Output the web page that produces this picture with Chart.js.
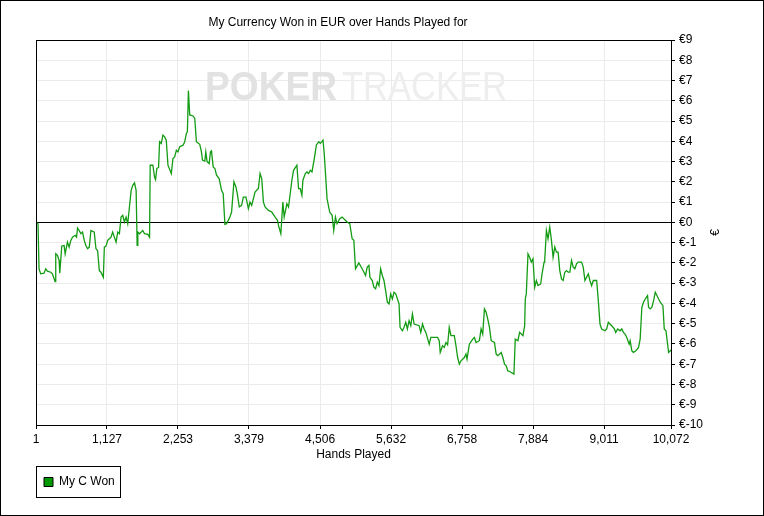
<!DOCTYPE html>
<html>
<head>
<meta charset="utf-8">
<title>My Currency Won in EUR over Hands Played</title>
<script src="https://cdn.jsdelivr.net/npm/chart.js@4.4.0/dist/chart.umd.min.js"></script>
<style>
  html, body { margin: 0; padding: 0; background: #fff; }
  #wrap { width: 764px; height: 516px; }
</style>
</head>
<body>
<div id="wrap"><canvas id="plotWon" width="764" height="516"></canvas></div>
<script>
var chartTitle = "My Currency Won in EUR over Hands Played for";
var xTitle = "Hands Played";
var yTitle = "€";
var seriesLabel = "My C Won";
var xTicks = [1, 1127, 2253, 3379, 4506, 5632, 6758, 7884, 9011, 10072];
var yMin = -10;
var yMax = 9;

var hands = [
  1, 33, 49, 75, 128, 155, 182, 235, 261, 304, 314, 341, 368, 378, 410, 447, 463, 500, 527, 553,
  580, 622, 644, 660, 686, 713, 739, 766, 792, 819, 846, 872, 925, 952, 978, 1005, 1031, 1069, 1085, 1111,
  1138, 1164, 1191, 1217, 1244, 1271, 1297, 1324, 1350, 1377, 1403, 1430, 1456, 1483, 1510, 1536, 1563, 1589, 1605, 1616,
  1642, 1695, 1722, 1775, 1802, 1812, 1855, 1881, 1897, 1918, 1945, 1961, 1988, 2014, 2041, 2067, 2094, 2147, 2173, 2200,
  2227, 2253, 2280, 2333, 2360, 2386, 2402, 2418, 2439, 2492, 2519, 2545, 2598, 2625, 2641, 2678, 2694, 2715, 2747, 2768,
  2784, 2811, 2838, 2864, 2906, 2944, 2970, 2997, 3023, 3050, 3076, 3103, 3140, 3172, 3193, 3225, 3262, 3289, 3331, 3369,
  3395, 3422, 3475, 3528, 3555, 3581, 3608, 3634, 3687, 3740, 3794, 3831, 3847, 3884, 3916, 3937, 3980, 4006, 4059, 4086,
  4139, 4165, 4192, 4218, 4234, 4272, 4298, 4325, 4351, 4378, 4415, 4447, 4484, 4511, 4553, 4574, 4617, 4659, 4697, 4723,
  4750, 4776, 4818, 4856, 4935, 4978, 5015, 5042, 5068, 5121, 5174, 5228, 5254, 5281, 5297, 5334, 5360, 5387, 5414, 5440,
  5467, 5493, 5520, 5546, 5573, 5600, 5626, 5653, 5679, 5706, 5759, 5775, 5812, 5838, 5865, 5891, 5918, 5945, 5971, 5998,
  6077, 6104, 6131, 6157, 6184, 6237, 6263, 6316, 6370, 6396, 6412, 6449, 6476, 6502, 6529, 6555, 6582, 6635, 6662, 6688,
  6715, 6741, 6794, 6821, 6837, 6874, 6927, 6954, 6980, 7033, 7060, 7086, 7113, 7140, 7166, 7193, 7220, 7272, 7299, 7326,
  7379, 7405, 7432, 7458, 7485, 7512, 7538, 7581, 7602, 7644, 7671, 7724, 7751, 7761, 7777, 7804, 7830, 7857, 7883, 7910,
  7937, 7963, 8005, 8027, 8059, 8069, 8096, 8122, 8149, 8176, 8202, 8229, 8255, 8282, 8308, 8335, 8361, 8388, 8415, 8441,
  8468, 8494, 8521, 8547, 8574, 8600, 8654, 8680, 8707, 8733, 8760, 8786, 8813, 8840, 8893, 8919, 8946, 8972, 9025, 9052,
  9078, 9131, 9174, 9195, 9227, 9264, 9291, 9317, 9344, 9371, 9408, 9424, 9451, 9477, 9514, 9557, 9583, 9610, 9636, 9663,
  9700, 9716, 9743, 9769, 9796, 9822, 9849, 9875, 9902, 9944, 9965, 9992, 10034, 10061, 10072
];

var won = [
  0, -0.07, -2.29, -2.54, -2.51, -2.29, -2.41, -2.46, -2.54, -2.92, -1.55, -1.63, -1.88, -2.51, -1.17, -1.14, -1.55, -0.97, -1.22, -0.89,
  -0.73, -0.64, -0.73, -0.28, -0.40, -0.56, -0.48, -0.89, -1.14, -1.30, -1.22, -0.40, -0.48, -1.30, -1.39, -2.38, -2.46, -2.71, -1.22, -1.17,
  -0.89, -0.81, -0.73, -0.48, -0.73, -0.97, -0.48, -0.56, 0.26, 0.35, 0.02, 0.26, -0.07, 0.76, 1.58, 1.83, 1.95, 1.58, -1.14, -0.48,
  -0.56, -0.40, -0.56, -0.59, -0.73, 2.82, 2.82, 2.24, 2.11, 2.66, 2.71, 3.98, 3.90, 4.31, 4.22, 4.06, 2.82, 2.41, 3.15, 3.23,
  3.56, 3.48, 3.73, 3.81, 3.98, 4.39, 4.47, 6.50, 5.30, 5.25, 5.13, 3.98, 3.85, 3.48, 3.07, 3.02, 3.48, 2.99, 2.90, 3.48,
  3.53, 2.74, 2.66, 2.33, 2.16, 1.58, 1.42, -0.10, -0.07, 0.10, 0.26, 0.51, 2.00, 1.75, 1.42, 0.76, 0.84, 1.25, 1.25, 0.68,
  1.00, 0.84, 1.50, 1.67, 2.41, 2.16, 1.00, 0.76, 0.59, 0.51, 0.26, 0.10, -0.15, -0.56, 1.00, 0.26, 0.92, 0.76, 2.08, 2.57,
  2.82, 1.67, 1.67, 1.34, 2.08, 2.41, 2.49, 2.41, 2.57, 2.49, 3.15, 3.81, 3.98, 3.90, 4.06, 3.32, 1.17, 0.51, 0.35, -0.40,
  0.26, -0.07, 0.18, 0.26, 0.02, -0.07, -0.81, -0.89, -2.29, -2.00, -2.29, -2.62, -2.21, -2.13, -2.71, -2.87, -3.20, -3.28, -2.95, -3.12,
  -2.29, -2.62, -2.87, -3.37, -3.94, -4.02, -3.53, -3.78, -3.45, -3.53, -4.02, -5.18, -5.35, -5.18, -4.93, -5.26, -4.85, -5.10, -4.52, -5.02,
  -5.10, -5.43, -5.02, -5.26, -5.43, -6.01, -5.68, -5.68, -5.68, -5.84, -6.42, -6.09, -6.17, -5.93, -6.04, -5.18, -5.59, -5.59, -6.09, -6.67,
  -7.00, -6.83, -6.67, -6.50, -6.75, -6.01, -5.76, -5.68, -5.93, -5.84, -5.26, -5.51, -4.27, -4.44, -4.77, -5.18, -5.84, -5.93, -6.50, -6.58,
  -6.42, -6.67, -7.00, -7.08, -7.33, -7.36, -7.41, -7.49, -5.76, -5.84, -5.43, -5.59, -5.10, -3.78, -3.53, -1.55, -1.72, -1.96, -1.80, -3.20,
  -2.87, -3.12, -3.04, -2.54, -1.96, -1.88, -0.40, -0.81, -0.23, -0.89, -1.72, -1.22, -1.47, -1.47, -2.38, -2.79, -2.87, -2.46, -2.38, -2.46,
  -2.46, -1.88, -2.21, -2.29, -2.05, -1.96, -1.96, -2.21, -2.87, -2.71, -2.54, -2.87, -3.12, -2.87, -2.87, -3.86, -5.02, -5.26, -5.35, -5.26,
  -4.93, -5.10, -5.26, -5.43, -5.26, -5.35, -5.26, -5.43, -5.51, -5.68, -6.01, -5.84, -6.34, -6.42, -6.34, -6.17, -5.76, -4.19, -3.94, -3.78,
  -3.61, -4.19, -4.27, -4.19, -3.86, -3.45, -3.61, -3.78, -3.94, -4.11, -5.26, -5.35, -6.42, -6.34, -6.30
];

var fontName = "'Liberation Sans', Arial, sans-serif";
var baseFont = { family: fontName, size: 12 };
var lineColor = "#139c13";
var swatchColor = "#009900";
var gridColor = "#ebebeb";

function fitText(ctx, text, x, y, width) {
  var w = ctx.measureText(text).width;
  ctx.save();
  ctx.translate(x, y);
  ctx.scale(width / w, 1);
  ctx.fillText(text, 0, 0);
  ctx.restore();
}

var decor = {
  id: "decor",
  beforeDraw: function (chart) {
    var ctx = chart.ctx;
    ctx.save();
    ctx.fillStyle = "#fff";
    ctx.fillRect(0, 0, chart.width, chart.height);
    ctx.restore();
  },
  beforeDatasetsDraw: function (chart) {
    // faint logo behind the line
    var ctx = chart.ctx;
    ctx.save();
    ctx.textAlign = "left";
    ctx.textBaseline = "alphabetic";
    ctx.font = "bold 40px " + fontName;
    ctx.fillStyle = "#e2e2e2";
    fitText(ctx, "POKER", 205, 100, 132);
    ctx.font = "40px " + fontName;
    ctx.fillStyle = "#eeeeee";
    fitText(ctx, "TRACKER", 342, 100, 165);
    ctx.restore();
  },
  afterDraw: function (chart) {
    var ctx = chart.ctx;
    var area = chart.chartArea;
    ctx.save();
    ctx.strokeStyle = "#000";
    ctx.lineWidth = 1;
    ctx.strokeRect(0.5, 0.5, chart.width - 1, chart.height - 1);
    ctx.strokeRect(Math.round(area.left) + 0.5, Math.round(area.top) + 0.5,
      Math.round(area.right - area.left), Math.round(area.bottom - area.top));

    ctx.fillStyle = "#000";
    ctx.font = "12px " + fontName;
    ctx.textAlign = "center";
    ctx.textBaseline = "middle";
    ctx.fillText(chartTitle, 338, 23);

    ctx.save();
    ctx.translate(716, (area.top + area.bottom) / 2);
    ctx.rotate(-Math.PI / 2);
    ctx.fillText(yTitle, 0, 0);
    ctx.restore();

    var hb = chart.legend.legendHitBoxes[0];
    if (hb) {
      ctx.strokeRect(Math.round(hb.left - 8) + 0.5, Math.round(hb.top - 10) + 0.5,
        Math.round(hb.width + 13), 31);
    }
    ctx.restore();
  }
};

new Chart(document.getElementById("plotWon"), {
  type: "line",
  data: {
    datasets: [
      {
        label: seriesLabel,
        data: hands.map(function (h, i) { return { x: h, y: won[i] }; }),
        borderColor: lineColor,
        backgroundColor: swatchColor,
        borderWidth: 1.3,
        pointRadius: 0,
        tension: 0,
        fill: false
      }
    ]
  },
  options: {
    responsive: false,
    animation: false,
    devicePixelRatio: 1,
    layout: { padding: { left: 36, top: 40, right: 38, bottom: 18 } },
    plugins: {
      title: { display: false },
      tooltip: { enabled: false },
      legend: {
        position: "bottom",
        align: "start",
        labels: {
          boxWidth: 9,
          boxHeight: 9,
          padding: 8,
          color: "#000",
          font: baseFont,
          generateLabels: function () {
            return [{
              text: seriesLabel,
              fillStyle: swatchColor,
              strokeStyle: "#000",
              lineWidth: 1,
              hidden: false,
              datasetIndex: 0
            }];
          }
        }
      }
    },
    scales: {
      x: {
        type: "linear",
        min: xTicks[0],
        max: xTicks[xTicks.length - 1],
        afterBuildTicks: function (scale) {
          scale.ticks = xTicks.map(function (v) { return { value: v }; });
        },
        afterFit: function (scale) { scale.height = 43; },
        ticks: {
          autoSkip: false,
          maxRotation: 0,
          padding: 3,
          color: "#000",
          font: baseFont,
          callback: function (v) { return Number(v).toLocaleString("en-US"); }
        },
        grid: { color: gridColor, tickColor: "#000", tickLength: 4 },
        border: { color: "#000" },
        title: {
          display: true,
          text: xTitle,
          color: "#000",
          font: baseFont,
          padding: { top: 0, bottom: 6 }
        }
      },
      y: {
        position: "right",
        min: yMin,
        max: yMax,
        afterFit: function (scale) { scale.width = 55; },
        ticks: {
          stepSize: 1,
          autoSkip: false,
          padding: 4,
          color: "#000",
          font: baseFont,
          callback: function (v) { return "€" + v; }
        },
        grid: {
          color: function (c) { return c.tick && c.tick.value === 0 ? "#000" : gridColor; },
          tickColor: "#000",
          tickLength: 4
        },
        border: { color: "#000" }
      }
    }
  },
  plugins: [decor]
});
</script>
</body>
</html>
